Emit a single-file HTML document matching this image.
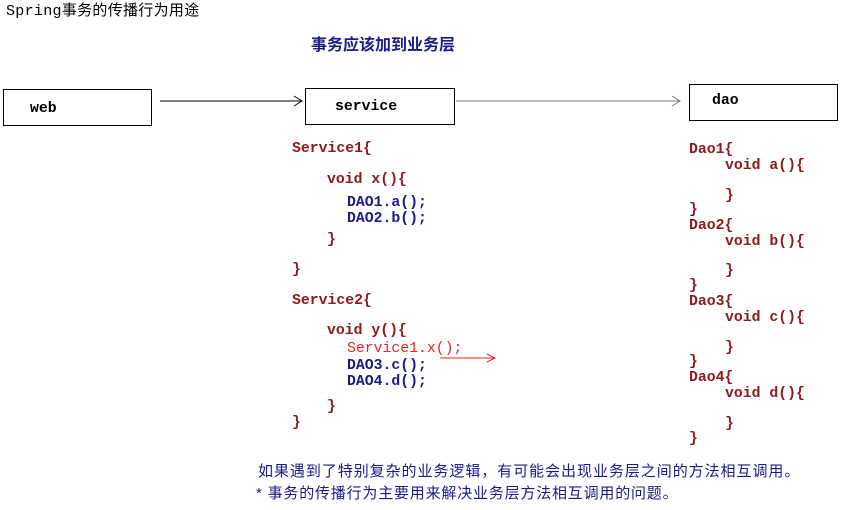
<!DOCTYPE html>
<html><head><meta charset="utf-8"><style>
body{margin:0;width:842px;height:510px;background:#fff;position:relative;overflow:hidden;font-family:"Liberation Mono","Noto Sans CJK SC",monospace;}
.t{position:absolute;white-space:pre;font-size:14.8px;line-height:16px;font-weight:bold;}
.r{color:#8b1a1a;}
.b{color:#1a1a8b;}
.box{position:absolute;border:1px solid #000;box-sizing:border-box;}
.cn{font-family:"Liberation Sans","Noto Sans CJK SC",sans-serif;}
</style></head><body>
<div class="t" style="left:6px;top:4px;font-size:15px;font-weight:normal;letter-spacing:0.3px">Spring事务的传播行为用途</div>
<div class="t cn b" style="left:311px;top:38px;font-size:16px">事务应该加到业务层</div>

<div class="box" style="left:3px;top:89px;width:149px;height:37px"></div>
<div class="t" style="left:30px;top:101px">web</div>
<div class="box" style="left:305px;top:88px;width:150px;height:37px"></div>
<div class="t" style="left:335px;top:99px">service</div>
<div class="box" style="left:689px;top:84px;width:149px;height:37px"></div>
<div class="t" style="left:712px;top:93px">dao</div>

<svg style="position:absolute;left:0;top:0" width="842" height="510">
<line x1="160" y1="101" x2="302" y2="101" stroke="#000" stroke-width="1"/>
<polyline points="294,96 302,101 294,106" fill="none" stroke="#000"/>
<line x1="456" y1="101" x2="680" y2="101" stroke="#777" stroke-width="1"/>
<polyline points="672,96 680,101 672,106" fill="none" stroke="#777"/>
<line x1="440" y1="358" x2="495" y2="358" stroke="#e22" stroke-width="1"/>
<polyline points="487,354 495,358 487,362" fill="none" stroke="#e22"/>
</svg>

<div class="t r" style="left:292px;top:141px">Service1{</div>
<div class="t r" style="left:327px;top:172px">void x(){</div>
<div class="t b" style="left:347px;top:195px">DAO1.a();</div>
<div class="t b" style="left:347px;top:211px">DAO2.b();</div>
<div class="t r" style="left:327px;top:232px">}</div>
<div class="t r" style="left:292px;top:262px">}</div>
<div class="t r" style="left:292px;top:293px">Service2{</div>
<div class="t r" style="left:327px;top:323px">void y(){</div>
<div class="t" style="left:347px;top:341px;color:#e22;font-weight:normal">Service1.x();</div>
<div class="t b" style="left:347px;top:358px">DAO3.c();</div>
<div class="t b" style="left:347px;top:374px">DAO4.d();</div>
<div class="t r" style="left:327px;top:399px">}</div>
<div class="t r" style="left:292px;top:415px">}</div>

<div class="t r" style="left:689px;top:142px">Dao1{</div>
<div class="t r" style="left:725px;top:158px">void a(){</div>
<div class="t r" style="left:725px;top:188px">}</div>
<div class="t r" style="left:689px;top:202px">}</div>
<div class="t r" style="left:689px;top:218px">Dao2{</div>
<div class="t r" style="left:725px;top:234px">void b(){</div>
<div class="t r" style="left:725px;top:263px">}</div>
<div class="t r" style="left:689px;top:278px">}</div>
<div class="t r" style="left:689px;top:294px">Dao3{</div>
<div class="t r" style="left:725px;top:310px">void c(){</div>
<div class="t r" style="left:725px;top:340px">}</div>
<div class="t r" style="left:689px;top:354px">}</div>
<div class="t r" style="left:689px;top:370px">Dao4{</div>
<div class="t r" style="left:725px;top:386px">void d(){</div>
<div class="t r" style="left:725px;top:416px">}</div>
<div class="t r" style="left:689px;top:431px">}</div>

<div class="t cn b" style="left:258px;top:464px;font-size:15px;letter-spacing:0.95px;font-weight:normal">如果遇到了特别复杂的业务逻辑，有可能会出现业务层之间的方法相互调用。</div>
<div class="t cn b" style="left:256px;top:486px;font-size:15px;letter-spacing:0.8px;font-weight:normal">*&nbsp;事务的传播行为主要用来解决业务层方法相互调用的问题。</div>
</body></html>
